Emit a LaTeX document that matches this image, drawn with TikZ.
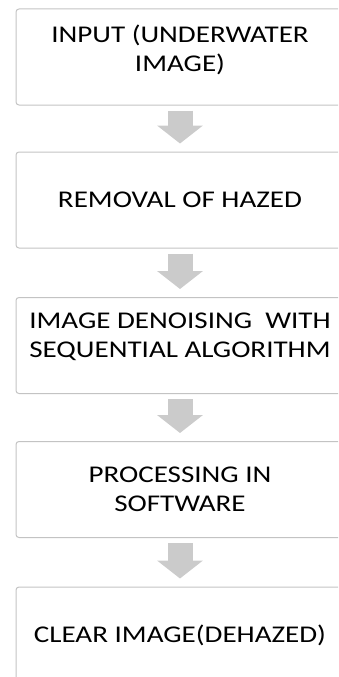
\documentclass[tikz,border=0pt]{standalone}
\usepackage{fontspec}
\setmainfont{Carlito}
\newfontfamily\boxfont[FakeStretch=1.21]{Carlito}
\usetikzlibrary{arrows.meta}
\definecolor{boxline}{RGB}{195,195,195}
\definecolor{arrowgray}{RGB}{203,203,203}
\tikzset{
	stepbox/.style={draw=boxline, line width=1pt, rounded corners=3pt, minimum width=328pt, minimum height=96pt, align=center, inner sep=0pt, font=\boxfont\fontsize{24}{29}\selectfont},
	blockarrow/.style={draw=arrowgray, line width=25pt, -{Triangle[width=45pt, length=18pt]}, shorten <=5pt, shorten >=8pt}
}
\begin{document}
\begin{tikzpicture}[x=1pt, y=-1pt]
		\useasboundingbox (0,0) rectangle (338,677);
		\clip (0,0) rectangle (338,677);
		\node[stepbox, text depth=18pt] (IN) at (180, 57) {INPUT (UNDERWATER\\IMAGE)};
		\node[stepbox] (RH) at (180, 200) {REMOVAL OF HAZED};
		\node[stepbox, text depth=21pt] (ID) at (180, 345.5) {IMAGE DENOISING\ \ WITH\\SEQUENTIAL ALGORITHM};
		\node[stepbox] (PS) at (180, 489.5) {PROCESSING IN\\SOFTWARE};
		\node[stepbox] (CI) at (180, 635) {CLEAR IMAGE(DEHAZED)};

		\path (IN) edge[blockarrow] (RH)
		(RH) edge[blockarrow] (ID)
		(ID) edge[blockarrow] (PS)
		(PS) edge[blockarrow] (CI);

	\end{tikzpicture}
\end{document}
